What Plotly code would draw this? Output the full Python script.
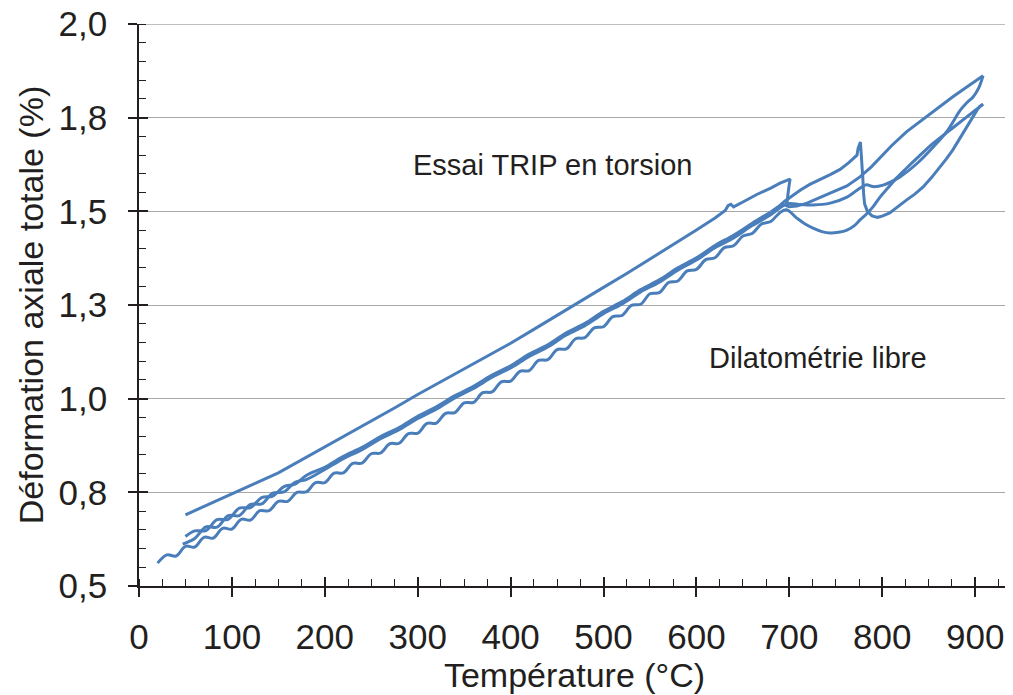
import plotly.graph_objects as go

# ---------------- data ----------------
# Essai TRIP en torsion : heating branch (T in °C, axial strain in %)
temp_trip_heat = [47, 60, 72, 84, 96, 108, 120, 132, 144, 156, 168, 180, 200, 220, 240, 260, 280, 300,
                  320, 340, 360, 380, 400, 420, 440, 460, 480, 500, 520, 540, 560, 580, 600, 620, 640,
                  660, 680, 697.5, 712, 725.5, 744, 762, 776, 783, 790, 801, 819, 838, 855, 870, 884,
                  891, 898, 904, 908.5]
eps_trip_heat = [0.612, 0.627, 0.658, 0.657, 0.688, 0.688, 0.718, 0.719, 0.748, 0.751, 0.777, 0.784,
                 0.811, 0.840, 0.864, 0.893, 0.917, 0.947, 0.972, 1.002, 1.027, 1.057, 1.082, 1.113,
                 1.138, 1.170, 1.195, 1.227, 1.253, 1.285, 1.311, 1.343, 1.370, 1.403, 1.429, 1.462,
                 1.491, 1.520, 1.518, 1.517, 1.522, 1.538, 1.562, 1.571, 1.566, 1.570, 1.592, 1.629,
                 1.672, 1.715, 1.770, 1.790, 1.806, 1.830, 1.862]

# Essai TRIP en torsion : cooling branch
temp_trip_cool = [908.5, 900, 891, 876, 862, 845, 826, 810, 797, 788, 776, 762, 747, 733, 719, 708, 700,
                  697, 698, 699.5, 700.8, 695, 690, 680, 665, 650, 640, 637, 634, 631, 620, 600, 575,
                  550, 525, 500, 475, 450, 425, 400, 375, 350, 325, 300, 275, 250, 225, 200, 175, 150,
                  125, 100, 75, 50]
eps_trip_cool = [1.862, 1.848, 1.832, 1.806, 1.780, 1.748, 1.712, 1.675, 1.640, 1.618, 1.592, 1.568,
                 1.552, 1.536, 1.522, 1.514, 1.512, 1.515, 1.540, 1.565, 1.586, 1.580, 1.575, 1.562,
                 1.545, 1.525, 1.512, 1.519, 1.515, 1.502, 1.482, 1.450, 1.411, 1.372, 1.334, 1.297,
                 1.259, 1.222, 1.185, 1.148, 1.114, 1.080, 1.045, 1.011, 0.975, 0.940, 0.905, 0.870,
                 0.835, 0.802, 0.774, 0.746, 0.718, 0.690]

# Dilatométrie libre : heating branch
temp_dil_heat = [20, 30, 40, 50, 60, 70, 80, 90, 100, 110, 120, 130, 140, 150, 160, 170, 180, 190, 200,
                 210, 220, 230, 240, 250, 260, 270, 280, 290, 300, 310, 320, 330, 340, 350, 360, 370,
                 380, 390, 400, 410, 420, 430, 440, 450, 460, 470, 480, 490, 500, 510, 520, 530, 540,
                 550, 560, 570, 580, 590, 600, 610, 620, 630, 640, 650, 660, 670, 680, 690, 697, 708,
                 717, 725.5, 735, 744, 753, 762, 770, 776, 783, 790, 797.6, 806, 815, 826, 840, 855,
                 873, 891, 902, 908.5]
eps_dil_heat = [0.561, 0.583, 0.580, 0.606, 0.604, 0.630, 0.628, 0.654, 0.652, 0.678, 0.676, 0.701,
                0.701, 0.726, 0.726, 0.750, 0.751, 0.776, 0.776, 0.801, 0.802, 0.827, 0.828, 0.853,
                0.855, 0.880, 0.881, 0.907, 0.908, 0.934, 0.935, 0.961, 0.963, 0.989, 0.990, 1.016,
                1.018, 1.045, 1.047, 1.073, 1.075, 1.102, 1.104, 1.131, 1.133, 1.160, 1.163, 1.189,
                1.192, 1.219, 1.222, 1.249, 1.252, 1.280, 1.283, 1.310, 1.314, 1.341, 1.345, 1.371,
                1.376, 1.403, 1.408, 1.434, 1.441, 1.466, 1.473, 1.497, 1.504, 1.482, 1.466, 1.455,
                1.446, 1.442, 1.444, 1.450, 1.462, 1.477, 1.493, 1.512, 1.538, 1.562, 1.588, 1.615,
                1.648, 1.682, 1.717, 1.752, 1.773, 1.786]

# Dilatométrie libre : cooling branch, austenite + transformation part
temp_dil_cool_hot = [908.5, 905, 902, 896, 891, 884, 876, 869, 862, 853, 844, 835, 826, 817, 808, 800,
                     795, 789, 784, 781, 780, 779, 778, 776.5, 774, 772.8, 764, 754.6, 744, 733, 722,
                     712, 703, 695, 688, 680]
eps_dil_cool_hot = [1.786, 1.780, 1.770, 1.745, 1.725, 1.695, 1.664, 1.640, 1.618, 1.590, 1.565, 1.546,
                    1.530, 1.512, 1.496, 1.487, 1.484, 1.488, 1.500, 1.520, 1.545, 1.592, 1.645, 1.685,
                    1.668, 1.650, 1.630, 1.612, 1.598, 1.585, 1.572, 1.557, 1.541, 1.527, 1.512, 1.498]
# Dilatométrie libre : cooling branch, ferrite part down to 50 °C
temp_dil_cool_cold = [680, 660, 640, 620, 600, 580, 560, 540, 520, 500, 480, 460, 440, 420, 400, 380,
                      360, 340, 320, 300, 280, 260, 240, 220, 200, 180, 168, 156, 144, 132, 120, 108,
                      96, 84, 72, 60, 50]
eps_dil_cool_cold = [1.498, 1.468, 1.436, 1.409, 1.376, 1.349, 1.317, 1.291, 1.259, 1.233, 1.201,
                     1.176, 1.144, 1.119, 1.088, 1.063, 1.033, 1.008, 0.978, 0.953, 0.923, 0.899,
                     0.870, 0.846, 0.817, 0.795, 0.772, 0.765, 0.740, 0.736, 0.709, 0.708, 0.678,
                     0.677, 0.648, 0.647, 0.632]

x_ticks = [0, 100, 200, 300, 400, 500, 600, 700, 800, 900]
y_ticks = [0.5, 0.75, 1.0, 1.25, 1.5, 1.75, 2.0]
y_tick_labels = ["0,5", "0,8", "1,0", "1,3", "1,5", "1,8", "2,0"]

label_trip = "Essai TRIP en torsion"
label_dil = "Dilatométrie libre"
x_title = "Température (°C)"
y_title = "Déformation axiale totale (%)"

# ---------------- figure ----------------
LINE = "#4a7ebb"
INK = "#231f20"
GRID = "#a8a8a8"
FONT = "Liberation Sans, Arial, sans-serif"

fig = go.Figure()
series = [
    (temp_dil_heat, eps_dil_heat, "spline"),
    (temp_dil_cool_hot, eps_dil_cool_hot, "linear"),
    (temp_dil_cool_cold, eps_dil_cool_cold, "spline"),
    (temp_trip_heat, eps_trip_heat, "spline"),
    (temp_trip_cool, eps_trip_cool, "linear"),
]
for xs, ys, shape in series:
    line = dict(color=LINE, width=3, shape=shape)
    if shape == "spline":
        line["smoothing"] = 1.0
    fig.add_trace(go.Scatter(x=xs, y=ys, mode="lines", line=line,
                             hoverinfo="skip", showlegend=False))

# empty trace that carries the overlay axes drawing the inner half of major ticks
fig.add_trace(go.Scatter(x=[None], y=[None], xaxis="x2", yaxis="y2",
                         mode="lines", showlegend=False, hoverinfo="skip"))

X_RANGE = [0, 937.5]
Y_RANGE = [0.5, 2.0]

# the html page has an 8 px body margin, so the figure is 8 px smaller than the window
fig.update_layout(
    width=1005, height=687,
    margin=dict(l=131, r=3, t=16, b=109, autoexpand=False),
    paper_bgcolor="white", plot_bgcolor="white",
    font=dict(family=FONT, color=INK),
    showlegend=False,
    xaxis=dict(
        range=X_RANGE, tickmode="array", tickvals=x_ticks,
        ticks="outside", ticklen=9, tickwidth=1.5, tickcolor=INK,
        showline=True, linecolor=INK, linewidth=1.8,
        showgrid=False, zeroline=False,
        tickfont=dict(size=35, family=FONT, color=INK),
        ticklabelstandoff=10, ticklabeloverflow="allow",
        minor=dict(dtick=25, tick0=0, ticks="inside", ticklen=7, tickwidth=1.2,
                   tickcolor=INK, showgrid=False),
        title=dict(text=x_title, font=dict(size=34, family=FONT, color=INK), standoff=7),
        automargin=False,
    ),
    yaxis=dict(
        range=Y_RANGE, tickmode="array", tickvals=y_ticks, ticktext=y_tick_labels,
        ticks="outside", ticklen=9, tickwidth=1.5, tickcolor=INK,
        showline=True, linecolor=INK, linewidth=1.8,
        showgrid=True, gridcolor=GRID, gridwidth=1.3, zeroline=False,
        tickfont=dict(size=35, family=FONT, color=INK),
        ticklabelstandoff=14, ticklabeloverflow="allow",
        minor=dict(dtick=0.05, tick0=0.5, ticks="inside", ticklen=7, tickwidth=1.2,
                   tickcolor=INK, showgrid=False),
        title=dict(text=y_title, font=dict(size=34, family=FONT, color=INK), standoff=5),
        automargin=False,
    ),
    xaxis2=dict(range=X_RANGE, overlaying="x", anchor="y", side="bottom",
                tickmode="array", tickvals=x_ticks, ticks="inside", ticklen=9,
                tickwidth=1.5, tickcolor=INK, showticklabels=False,
                showline=False, showgrid=False, zeroline=False),
    yaxis2=dict(range=Y_RANGE, overlaying="y", anchor="x", side="left",
                tickmode="array", tickvals=y_ticks, ticks="inside", ticklen=9,
                tickwidth=1.5, tickcolor=INK, showticklabels=False,
                showline=False, showgrid=False, zeroline=False),
    shapes=[
        # top gridline (plotly drops the gridline lying on the plot edge)
        dict(type="line", xref="paper", yref="y", x0=0, x1=1, y0=Y_RANGE[1], y1=Y_RANGE[1],
             line=dict(color=GRID, width=1.3), layer="below"),
    ],
    annotations=[
        dict(x=444.6, y=1.624, xref="x", yref="y", text=label_trip, showarrow=False,
             font=dict(size=29, family=FONT, color=INK), xanchor="center", yanchor="middle"),
        dict(x=731, y=1.109, xref="x", yref="y", text=label_dil, showarrow=False,
             font=dict(size=29, family=FONT, color=INK), xanchor="center", yanchor="middle"),
    ],
)

fig.write_html("out.html")
